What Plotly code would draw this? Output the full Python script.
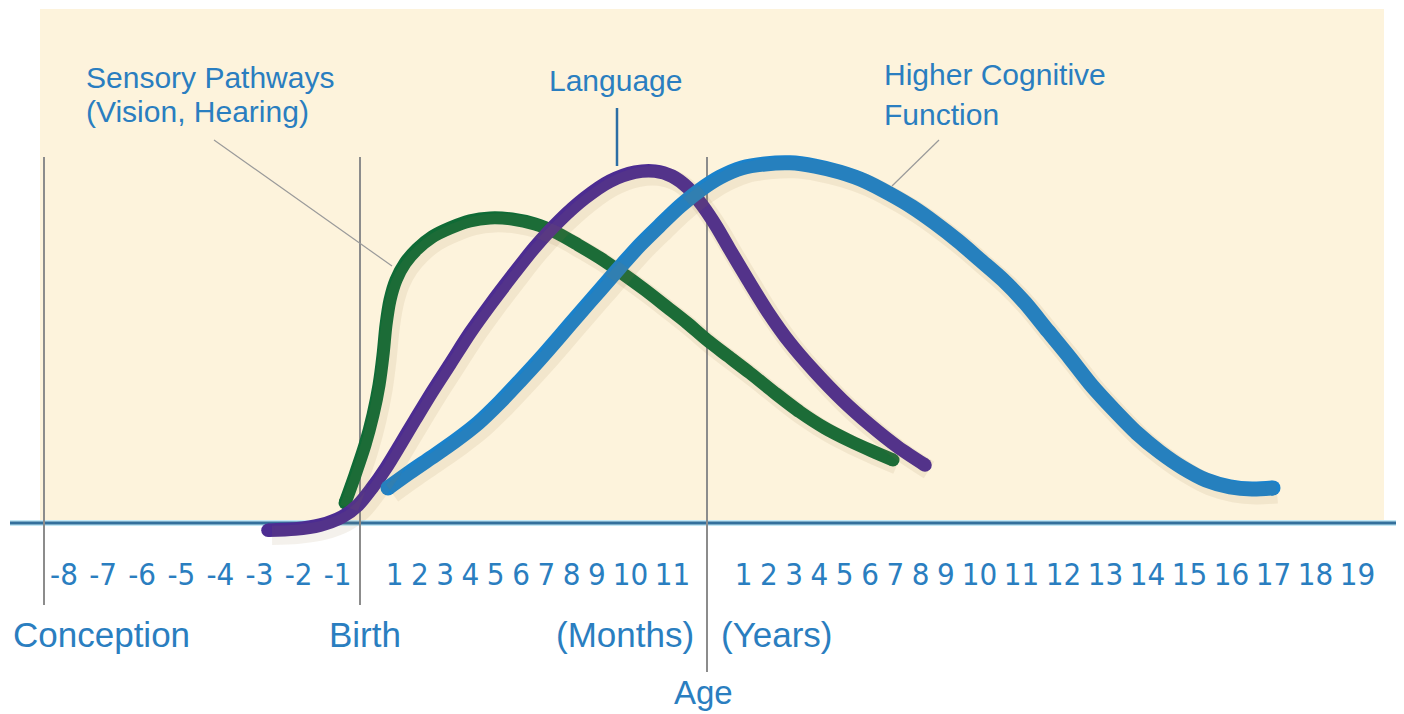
import plotly.graph_objects as go

# ---------------- data ----------------
# x: position along the timeline (diagram units), y: relative development intensity
sensory_x = [345, 355, 365, 373, 379, 383, 386, 390, 396, 405, 417, 432, 450, 470, 490, 512, 535, 557, 578, 600,
             622, 645, 667, 687, 707, 728, 750, 775, 800, 825, 850, 872, 893]
sensory_y = [0.056, 0.134, 0.218, 0.302, 0.385, 0.469, 0.553, 0.623, 0.679, 0.726, 0.765, 0.799, 0.824, 0.844,
             0.852, 0.849, 0.835, 0.810, 0.777, 0.740, 0.698, 0.651, 0.603, 0.559, 0.511, 0.466, 0.419, 0.363,
             0.310, 0.265, 0.229, 0.201, 0.176]

language_x = [268, 295, 320, 342, 358, 372, 386, 400, 415, 432, 450, 470, 490, 512, 535, 560, 585, 610, 635, 655,
              672, 688, 702, 716, 730, 748, 768, 790, 815, 842, 870, 898, 925]
language_y = [-0.020, -0.017, -0.006, 0.017, 0.050, 0.098, 0.154, 0.218, 0.288, 0.366, 0.444, 0.531, 0.609, 0.690,
              0.771, 0.846, 0.908, 0.955, 0.980, 0.983, 0.969, 0.936, 0.888, 0.830, 0.763, 0.679, 0.589, 0.503,
              0.422, 0.344, 0.274, 0.212, 0.162]

cognitive_x = [388, 410, 432, 455, 478, 500, 520, 540, 560, 580, 600, 620, 640, 660, 680, 700, 720, 742, 765, 790,
               815, 840, 865, 890, 912, 935, 958, 980, 1003, 1025, 1048, 1070, 1092, 1114, 1137, 1160, 1183, 1206,
               1230, 1252, 1273]
cognitive_y = [0.098, 0.142, 0.184, 0.229, 0.279, 0.338, 0.397, 0.458, 0.522, 0.587, 0.651, 0.715, 0.777, 0.832,
               0.885, 0.930, 0.966, 0.992, 1.003, 1.006, 0.997, 0.980, 0.955, 0.919, 0.883, 0.838, 0.788, 0.735,
               0.679, 0.615, 0.536, 0.461, 0.383, 0.316, 0.251, 0.198, 0.154, 0.120, 0.101, 0.095, 0.098]

prenatal_labels = ["-8", "-7", "-6", "-5", "-4", "-3", "-2", "-1"]
month_labels = [str(m) for m in range(1, 12)]
year_labels = [str(y) for y in range(1, 20)]

series_names = ["Sensory Pathways (Vision, Hearing)", "Language", "Higher Cognitive Function"]
series_colors = ["#0f6b36", "#4c2c92", "#1a82cc"]
series_widths = [13, 13.5, 15]

# ---------------- layout helpers ----------------
OFF = 8                 # page body margin around the figure
W, H = 1404 - OFF, 714 - OFF
BASE_PX = 523           # page row of the baseline
UNIT_PX = 358           # pixels per 1.0 intensity
TXT = "#2a7ec0"
FONT = "Liberation Sans, Arial, sans-serif"
NARROW = "Liberation Sans Narrow, Arial Narrow, DejaVu Sans Condensed, sans-serif"


def pyp(p):
    """page pixel row -> paper y"""
    return 1 - (p - OFF) / H


def typeset(labels, first_center, gap=13.3):
    """place tick labels like a spaced line of text"""
    def w(s):
        if s.startswith("-"):
            return 25.8
        return 12.0 if len(s) == 1 else 28.7
    pos = [first_center]
    for a, b in zip(labels[:-1], labels[1:]):
        pos.append(pos[-1] + w(a) / 2 + gap + w(b) / 2)
    return pos


tickvals = typeset(prenatal_labels, 64) + typeset(month_labels, 394.5) + typeset(year_labels, 743.5)
ticktext = prenatal_labels + month_labels + year_labels

fig = go.Figure()

# soft drop shadows (same data drawn on slightly shifted overlay axes)
for xs, ys, w in [(sensory_x, sensory_y, series_widths[0]), (language_x, language_y, series_widths[1]),
                  (cognitive_x, cognitive_y, series_widths[2])]:
    fig.add_trace(go.Scatter(x=xs, y=ys, mode="lines", xaxis="x2", yaxis="y2",
                             line=dict(color="rgba(150,120,70,0.10)", width=w + 6, shape="spline"),
                             hoverinfo="skip", showlegend=False))

for xs, ys, name, c, w in zip([sensory_x, language_x, cognitive_x], [sensory_y, language_y, cognitive_y],
                              series_names, series_colors, series_widths):
    fig.add_trace(go.Scatter(x=xs, y=ys, mode="lines", name=name,
                             line=dict(color=c, width=w, shape="spline", smoothing=0.8), showlegend=False))
    fig.add_trace(go.Scatter(x=[xs[0], xs[-1]], y=[ys[0], ys[-1]], mode="markers",
                             marker=dict(color=c, size=w, line=dict(width=0)),
                             hoverinfo="skip", showlegend=False))

base_fig = BASE_PX - OFF
yr = [-(H - base_fig) / UNIT_PX, base_fig / UNIT_PX]
dx, dy = 4, 5
fig.update_layout(
    width=W, height=H,
    margin=dict(l=0, r=0, t=0, b=0),
    paper_bgcolor="white", plot_bgcolor="rgba(0,0,0,0)",
    xaxis=dict(range=[OFF, OFF + W], showgrid=False, zeroline=False, showline=False,
               tickvals=tickvals, ticktext=ticktext, ticks="",
               tickfont=dict(family=NARROW, size=31, color=TXT),
               anchor="free", position=pyp(BASE_PX), ticklabelstandoff=30, fixedrange=True),
    yaxis=dict(range=yr, visible=False, fixedrange=True),
    xaxis2=dict(range=[OFF - dx, OFF + W - dx], overlaying="x", visible=False),
    yaxis2=dict(range=[yr[0] + dy / UNIT_PX, yr[1] + dy / UNIT_PX], overlaying="y", visible=False),
)

shapes = [
    # beige panel
    dict(type="rect", xref="x", yref="paper", x0=40, x1=1384, y0=pyp(BASE_PX), y1=pyp(9),
         fillcolor="#fdf3dc", line=dict(width=0), layer="below"),
    # baseline
    dict(type="line", xref="x", yref="paper", x0=10, x1=1404, y0=pyp(BASE_PX), y1=pyp(BASE_PX),
         line=dict(color="#c4e8f5", width=6), layer="below"),
    dict(type="line", xref="x", yref="paper", x0=10, x1=1404, y0=pyp(BASE_PX), y1=pyp(BASE_PX),
         line=dict(color="#34709c", width=3), layer="below"),
    # vertical markers
    dict(type="line", xref="x", yref="paper", x0=44, x1=44, y0=pyp(157), y1=pyp(605),
         line=dict(color="#8c8c8c", width=2), layer="below"),
    dict(type="line", xref="x", yref="paper", x0=360, x1=360, y0=pyp(157), y1=pyp(605),
         line=dict(color="#8c8c8c", width=2), layer="below"),
    dict(type="line", xref="x", yref="paper", x0=707, x1=707, y0=pyp(157), y1=pyp(672),
         line=dict(color="#8c8c8c", width=2), layer="below"),
    # leader lines
    dict(type="line", xref="x", yref="paper", x0=214, x1=392, y0=pyp(140), y1=pyp(266),
         line=dict(color="#9a9a9a", width=1.2)),
    dict(type="line", xref="x", yref="paper", x0=617, x1=617, y0=pyp(108), y1=pyp(166),
         line=dict(color="#2c6ea5", width=2.5)),
    dict(type="line", xref="x", yref="paper", x0=939, x1=892, y0=pyp(140), y1=pyp(186),
         line=dict(color="#9a9a9a", width=1.2)),
]
fig.update_layout(shapes=shapes)


def label(text, x, ypx, size, xanchor="left"):
    fig.add_annotation(text=text, x=x, y=pyp(ypx), xref="x", yref="paper", xanchor=xanchor, yanchor="middle",
                       showarrow=False, font=dict(family=FONT, size=size, color=TXT))


label("Sensory Pathways", 84, 77, 30)
label("(Vision, Hearing)", 84, 112, 30)
label("Language", 615, 80, 30, "center")
label("Higher Cognitive", 882, 75, 30)
label("Function", 882, 115, 30)
label("Conception", 11, 634, 35)
label("Birth", 327, 634, 35)
label("(Months)", 696, 634, 35, "right")
label("(Years)", 719, 634, 35)
label("Age", 703, 692, 33, "center")

fig.write_html("out.html")
